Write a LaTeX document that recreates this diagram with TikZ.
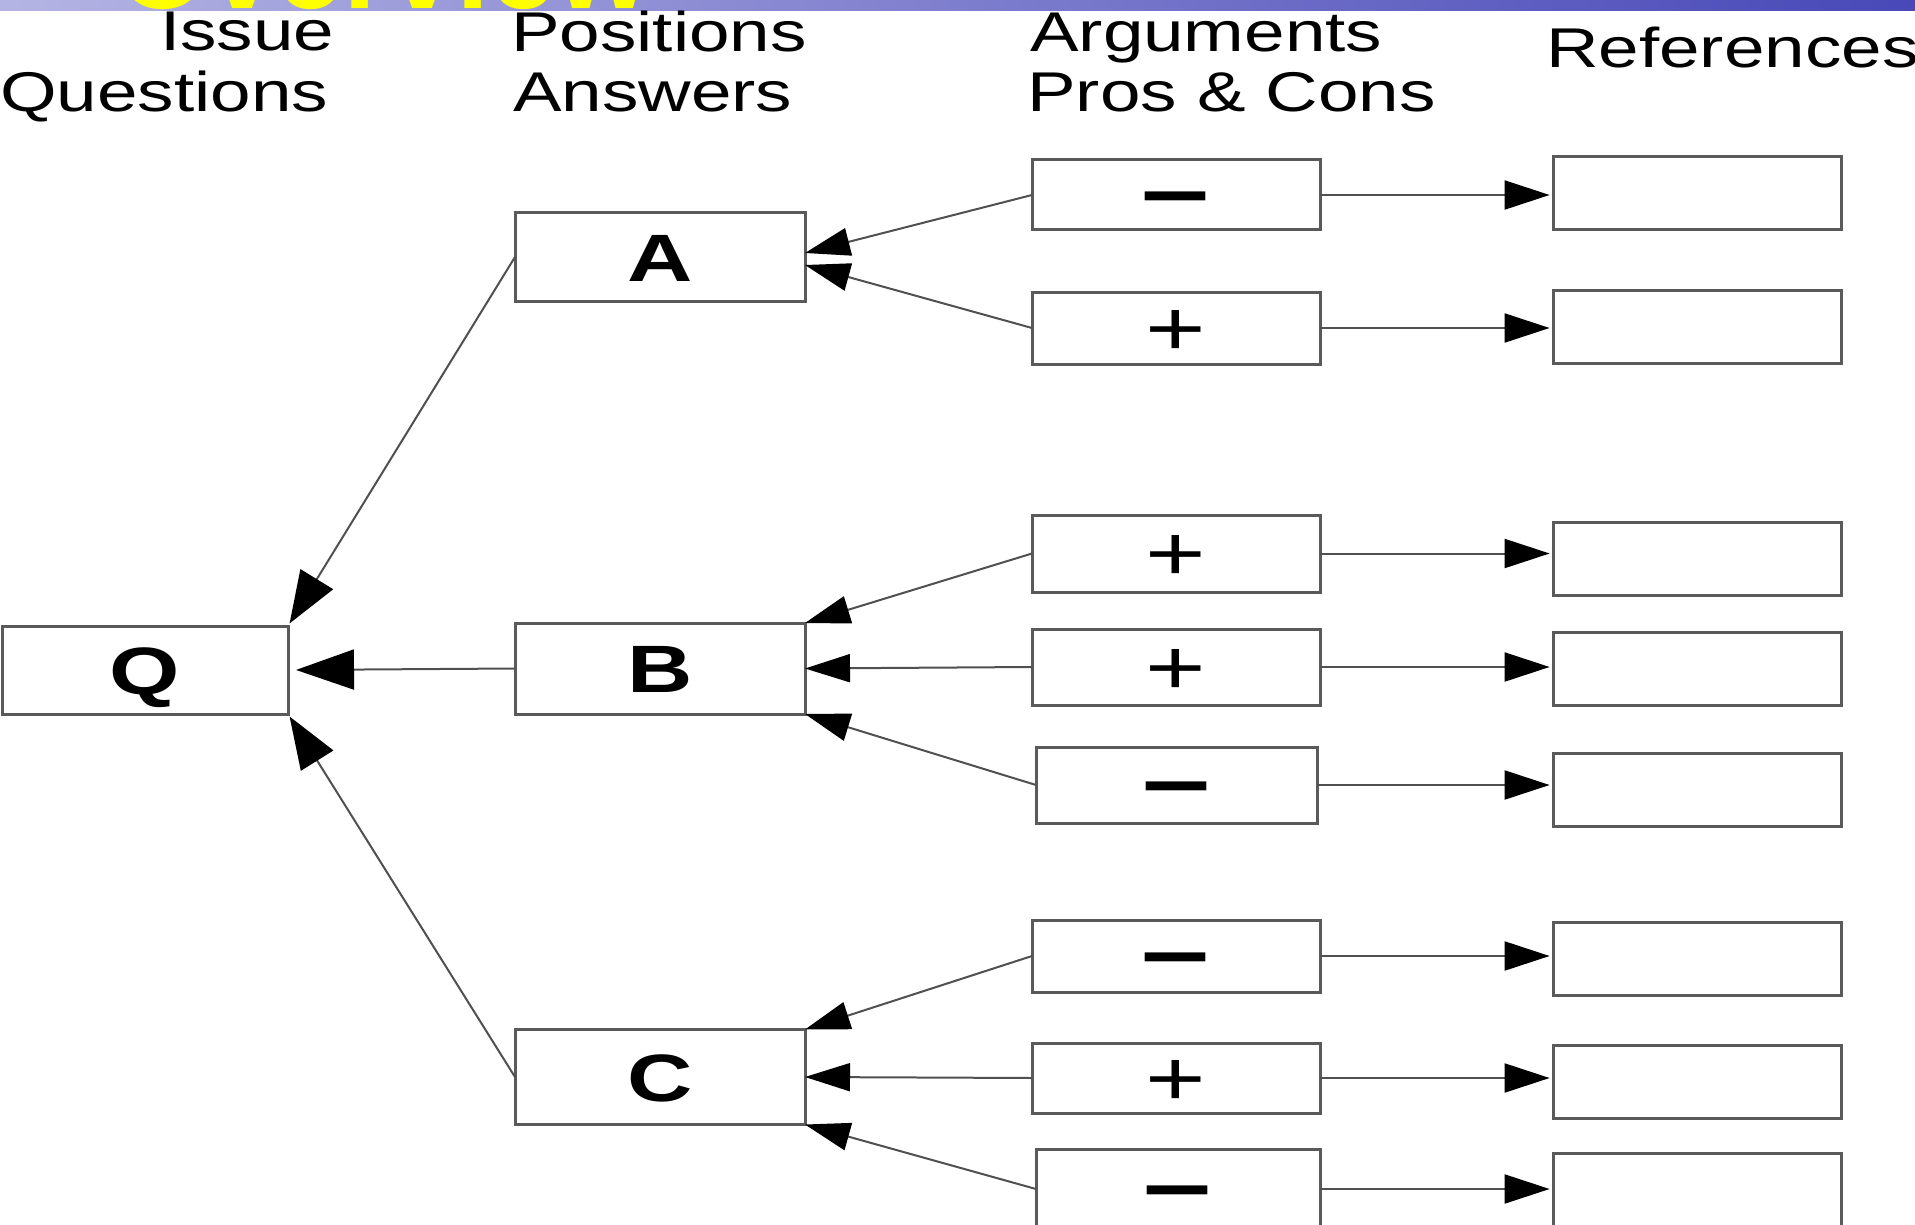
\documentclass[tikz,border=0pt]{standalone}
\usepackage{fontspec}
\setmainfont{Liberation Sans}
\usepackage{graphicx}
\usetikzlibrary{arrows.meta}

\definecolor{boxgray}{HTML}{5A5A5A}
\definecolor{linegray}{HTML}{505050}
\definecolor{bandleft}{HTML}{B4B4E4}
\definecolor{bandmid}{HTML}{8484D2}
\definecolor{bandright}{HTML}{4848B8}
\definecolor{titleyellow}{HTML}{FFFF00}

% horizontally widened text
\newcommand\hstretch[2]{\scalebox{#1}[1]{#2}}
\newcommand\headtext[1]{{\fontsize{56pt}{60pt}\selectfont\hstretch{1.3}{#1}}}
% glyphs centred on the node's baseline
\newcommand\boxlabel[1]{{\fontsize{67pt}{67pt}\selectfont\bfseries\smash{\raisebox{-0.36em}{\hstretch{1.35}{#1}}}}}
\newcommand\prosign{{\fontsize{78pt}{78pt}\selectfont\smash{\raisebox{-0.35em}{\hstretch{1.33}{+}}}}}
\newcommand\consign{{\fontsize{90pt}{90pt}\selectfont\bfseries\smash{\raisebox{-0.28em}{\hstretch{1.36}{–}}}}}

\begin{document}
\begin{tikzpicture}[x=1pt,y=-1pt,
  box/.style={draw=boxgray,line width=3pt,inner sep=0pt,outer sep=0pt,fill=white},
  posbox/.style={box,minimum width=290pt},
  argbox/.style={box,minimum width=288pt},
  refbox/.style={box,minimum width=288pt,minimum height=73pt},
  head/.style={inner sep=0pt,anchor=base west},
  link/.style={draw=linegray,line width=2pt},
  qtip/.style={-{Triangle[length=58pt,width=40pt,color=black]},shorten >=8pt},
  qtipd/.style={-{Triangle[length=52pt,width=38pt,color=black]},shorten >=3pt},
  ptip/.style={-{Triangle[length=45pt,width=28pt,color=black]}},
  rtip/.style={-{Triangle[length=45pt,width=29pt,color=black]},shorten >=4pt}]

\useasboundingbox (0,0) rectangle (1915,1225);
\clip (0,0) rectangle (1915,1225);
\fill[white] (0,0) rectangle (1915,1225);

% title band
\shade[left color=bandleft,middle color=bandmid,right color=bandright] (0,0) rectangle (1915,11);
\begin{scope}
  \clip (0,0) rectangle (1915,11);
  \node[inner sep=0pt,anchor=base west,text=titleyellow,
        font=\fontsize{120pt}{120pt}\selectfont\bfseries] (title) at (116,9) {Overview};
\end{scope}

% column headings
\node[head] (h1a) at (160,51)  {\headtext{Issue}};
\node[head] (h1b) at (0,112)   {\headtext{Questions}};
\node[head] (h2a) at (511,52)  {\headtext{Positions}};
\node[head] (h2b) at (513,112) {\headtext{Answers}};
\node[head] (h3a) at (1030,52) {\headtext{Arguments}};
\node[head] (h3b) at (1027,112){\headtext{Pros \& Cons}};
\node[head] (h4)  at (1546,68) {\headtext{References}};

% issue
\node[box,minimum width=286pt,minimum height=88pt] (Q) at (145,670) {\boxlabel{Q}};

% positions
\node[posbox,minimum height=89pt] (A) at (660,257)   {\boxlabel{A}};
\node[posbox,minimum height=91pt] (B) at (660,668.5) {\boxlabel{B}};
\node[posbox,minimum height=95pt] (C) at (660,1077)  {\boxlabel{C}};

% arguments
\node[argbox,minimum height=70pt] (A1) at (1176,195)   {\consign};
\node[argbox,minimum height=72pt] (A2) at (1176,328)   {\prosign};
\node[argbox,minimum height=77pt] (B1) at (1176,553.5) {\prosign};
\node[argbox,minimum height=76pt] (B2) at (1176,667)   {\prosign};
\node[box,minimum width=281pt,minimum height=76pt] (B3) at (1176.5,785) {\consign};
\node[argbox,minimum height=72pt] (C1) at (1176,956)   {\consign};
\node[argbox,minimum height=70pt] (C2) at (1176,1078)  {\prosign};
\node[box,minimum width=284pt,minimum height=80pt] (C3) at (1178,1189) {\consign};

% references
\node[refbox] (R1) at (1697.6,193)   {};
\node[refbox] (R2) at (1697.6,327)   {};
\node[refbox] (R3) at (1697.6,559)   {};
\node[refbox] (R4) at (1697.6,669)   {};
\node[refbox] (R5) at (1697.6,790)   {};
\node[refbox] (R6) at (1697.6,958.5) {};
\node[refbox] (R7) at (1697.6,1082)  {};
\node[box,minimum width=288pt,minimum height=80pt] (R8) at (1697.6,1193) {};

% positions -> issue
\draw[link,qtipd] (A.west) -- (Q.north east);
\draw[link,qtip]  (B.west) -- (Q.east);
\draw[link,qtipd] (C.west) -- (Q.south east);

% arguments -> positions
\draw[link,ptip] (A1.west) -- ([yshift=4pt]A.east);
\draw[link,ptip] (A2.west) -- ([yshift=-8pt]A.east);
\draw[link,ptip] (B1.west) -- (B.north east);
\draw[link,ptip] (B2.west) -- (B.east);
\draw[link,ptip] (B3.west) -- (B.south east);
\draw[link,ptip] (C1.west) -- (C.north east);
\draw[link,ptip] (C2.west) -- (C.east);
\draw[link,ptip] (C3.west) -- (C.south east);

% arguments -> references
\draw[link,rtip] (A1.east) -- (A1.east -| R1.west);
\draw[link,rtip] (A2.east) -- (A2.east -| R2.west);
\draw[link,rtip] (B1.east) -- (B1.east -| R3.west);
\draw[link,rtip] (B2.east) -- (B2.east -| R4.west);
\draw[link,rtip] (B3.east) -- (B3.east -| R5.west);
\draw[link,rtip] (C1.east) -- (C1.east -| R6.west);
\draw[link,rtip] (C2.east) -- (C2.east -| R7.west);
\draw[link,rtip] (C3.east) -- (C3.east -| R8.west);
\end{tikzpicture}
\end{document}
